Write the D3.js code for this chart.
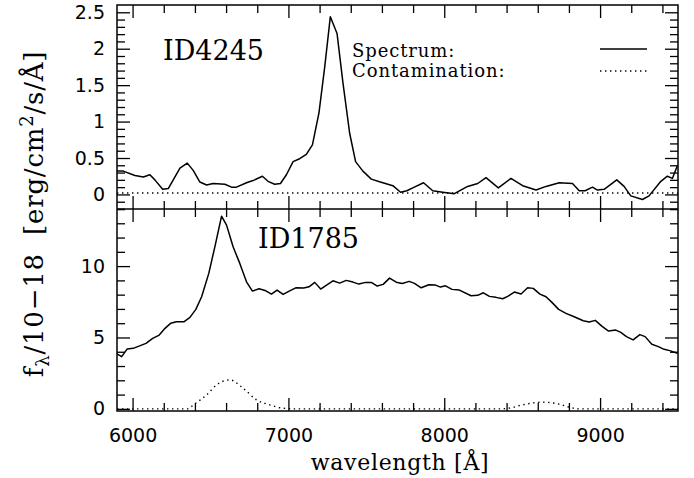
<!DOCTYPE html>
<html>
<head>
<meta charset="utf-8">
<script src="https://cdn.jsdelivr.net/npm/d3@7"></script>
<style>
  body { margin: 0; background: #fff; }
  .tick text { font-family: "DejaVu Sans", sans-serif; font-size: 19px; fill: #000; }
  .serif { font-family: "DejaVu Serif", serif; fill: #000; white-space: pre; }
</style>
</head>
<body>
<div id="container"></div>
<script>
// ID4245 spectrum (wavelength in Angstrom, flux in 1e-18 erg/cm2/s/A)
const wave4245 = [5900, 5940, 6015, 6069, 6111, 6143, 6193, 6229, 6304, 6351, 6389, 6432, 6475, 6517, 6592, 6635, 6667, 6731, 6773, 6833, 6869, 6912, 6949, 6987, 7030, 7072, 7115, 7154, 7196, 7233, 7269, 7312, 7350, 7393, 7431, 7478, 7532, 7590, 7670, 7720, 7760, 7798, 7867, 7926, 7990, 8065, 8150, 8215, 8268, 8347, 8428, 8503, 8589, 8653, 8738, 8823, 8866, 8904, 8951, 8983, 9026, 9107, 9154, 9197, 9272, 9314, 9390, 9432, 9464, 9495];
const flux4245 = [0.32, 0.32, 0.26, 0.24, 0.27, 0.20, 0.07, 0.08, 0.36, 0.43, 0.33, 0.17, 0.13, 0.15, 0.14, 0.10, 0.10, 0.16, 0.19, 0.25, 0.18, 0.14, 0.15, 0.27, 0.45, 0.49, 0.55, 0.68, 1.12, 1.75, 2.44, 2.21, 1.53, 0.84, 0.45, 0.32, 0.21, 0.17, 0.12, 0.03, 0.05, 0.09, 0.16, 0.05, 0.03, 0.01, 0.11, 0.15, 0.23, 0.09, 0.22, 0.12, 0.06, 0.11, 0.16, 0.15, 0.05, 0.05, 0.10, 0.06, 0.07, 0.20, 0.11, -0.02, -0.07, -0.02, 0.18, 0.25, 0.22, 0.39];
const contWave4245 = [5900, 9500];
const contFlux4245 = [0.02, 0.02];

// ID1785 spectrum
const wave1785 = [5900, 5930, 5966, 6004, 6086, 6129, 6171, 6208, 6244, 6282, 6329, 6368, 6406, 6443, 6489, 6528, 6571, 6603, 6645, 6688, 6731, 6769, 6812, 6855, 6891, 6927, 6966, 7008, 7047, 7098, 7132, 7169, 7207, 7247, 7286, 7329, 7371, 7414, 7452, 7495, 7532, 7570, 7608, 7649, 7692, 7730, 7775, 7809, 7852, 7901, 7944, 7976, 8008, 8050, 8097, 8172, 8215, 8251, 8290, 8332, 8375, 8407, 8450, 8493, 8535, 8571, 8614, 8653, 8691, 8734, 8781, 8834, 8892, 8930, 8969, 9011, 9054, 9101, 9133, 9169, 9212, 9255, 9289, 9332, 9374, 9411, 9447, 9496];
const flux1785 = [3.85, 3.66, 4.20, 4.24, 4.59, 4.94, 5.17, 5.64, 5.99, 6.10, 6.10, 6.41, 6.97, 7.85, 9.49, 11.35, 13.50, 12.87, 11.35, 10.19, 8.90, 8.25, 8.41, 8.27, 8.04, 8.32, 8.02, 8.27, 8.48, 8.46, 8.55, 8.86, 8.39, 8.69, 8.97, 8.81, 9.00, 8.88, 8.74, 8.86, 8.86, 8.60, 8.72, 9.16, 8.87, 8.78, 8.93, 8.79, 8.48, 8.69, 8.67, 8.53, 8.62, 8.37, 8.32, 7.92, 7.95, 8.13, 7.88, 7.81, 7.71, 7.88, 8.18, 8.04, 8.48, 8.44, 8.04, 7.85, 7.46, 6.97, 6.69, 6.45, 6.17, 6.08, 6.20, 5.80, 5.45, 5.52, 5.36, 5.06, 4.83, 5.20, 5.06, 4.52, 4.36, 4.17, 4.08, 3.90];
const contWave1785 = [5900, 6350, 6399, 6475, 6539, 6624, 6709, 6795, 6880, 6965, 7050, 8350, 8417, 8502, 8630, 8737, 8802, 8866, 9500];
const contFlux1785 = [0, 0, 0.35, 0.98, 1.68, 2.03, 1.45, 0.63, 0.28, 0.05, 0, 0, 0.05, 0.28, 0.47, 0.33, 0.12, 0, 0];

// ticks
const xMajor = [6000, 7000, 8000, 9000];
const yMajorTop = [0, 0.5, 1, 1.5, 2, 2.5];
const yMajorBot = [0, 5, 10];

const W = 694, H = 478;
const pLeft = 117, pRight = 678, pTop = 5, pMid = 209, pBottom = 411;

const svg = d3.select("#container").append("svg")
  .attr("width", W).attr("height", H);

const x = d3.scaleLinear().domain([5900, 9500]).range([pLeft, pRight]);
const yTop = d3.scaleLinear().domain([-0.2, 2.6]).range([pMid, pTop]);
const yBot = d3.scaleLinear().domain([-0.15, 14]).range([pBottom, pMid]);

const xMinor = d3.range(6000, 9500, 200).filter(v => xMajor.indexOf(v) < 0);

function frameAxes(y, y0, y1, majors, minorStep, labels) {
  const yMinor = d3.range(y.domain()[0], y.domain()[1], minorStep)
    .map(v => Math.round(v / minorStep) * minorStep)
    .filter(v => v >= y.domain()[0] && majors.every(m => Math.abs(m - v) > 1e-6));

  const draws = [
    [d3.axisBottom(x).tickValues(xMajor).tickSize(-13), y1, true],
    [d3.axisBottom(x).tickValues(xMinor).tickSize(-8), y1, false],
    [d3.axisTop(x).tickValues(xMajor).tickSize(-13), y0, false],
    [d3.axisTop(x).tickValues(xMinor).tickSize(-8), y0, false],
  ];
  draws.forEach(([ax, ty, lab]) => {
    const g = svg.append("g").attr("transform", `translate(0,${ty})`);
    ax.tickPadding(18);
    ax.tickFormat(lab && labels ? d3.format("d") : "");
    g.call(ax);
    g.select(".domain").remove();
    g.selectAll("line").attr("stroke-width", 1.3);
  });

  const gl = svg.append("g").attr("transform", `translate(${pLeft},0)`);
  gl.call(d3.axisLeft(y).tickValues(majors).tickSize(-13).tickPadding(12).tickFormat(d3.format("")));
  const gl2 = svg.append("g").attr("transform", `translate(${pLeft},0)`);
  gl2.call(d3.axisLeft(y).tickValues(yMinor).tickSize(-8).tickFormat(""));
  const gr = svg.append("g").attr("transform", `translate(${pRight},0)`);
  gr.call(d3.axisRight(y).tickValues(majors).tickSize(-13).tickFormat(""));
  const gr2 = svg.append("g").attr("transform", `translate(${pRight},0)`);
  gr2.call(d3.axisRight(y).tickValues(yMinor).tickSize(-8).tickFormat(""));
  [gl, gl2, gr, gr2].forEach(g => {
    g.select(".domain").remove();
    g.selectAll("line").attr("stroke-width", 1.3);
  });
}

frameAxes(yTop, pTop, pMid, yMajorTop, 0.1, false);
frameAxes(yBot, pMid, pBottom, yMajorBot, 1, true);

// clip regions
const defs = svg.append("defs");
defs.append("clipPath").attr("id", "clipTop").append("rect")
  .attr("x", pLeft).attr("y", pTop).attr("width", pRight - pLeft).attr("height", pMid - pTop);
defs.append("clipPath").attr("id", "clipBot").append("rect")
  .attr("x", pLeft).attr("y", pMid).attr("width", pRight - pLeft).attr("height", pBottom - pMid);

function drawSeries(wave, flux, y, clip, dotted) {
  const pts = wave.map((w, i) => [w, flux[i]]);
  const line = d3.line().x(d => x(d[0])).y(d => y(d[1]));
  if (dotted) line.curve(d3.curveMonotoneX);
  svg.append("path")
    .datum(pts)
    .attr("clip-path", `url(#${clip})`)
    .attr("fill", "none")
    .attr("stroke", "#000")
    .attr("stroke-width", dotted ? 1.4 : 1.5)
    .attr("stroke-dasharray", dotted ? "1.4,3.6" : null)
    .attr("stroke-linejoin", "round")
    .attr("d", line);
}

drawSeries(contWave4245, contFlux4245, yTop, "clipTop", true);
drawSeries(wave4245, flux4245, yTop, "clipTop", false);
drawSeries(contWave1785, contFlux1785, yBot, "clipBot", true);
drawSeries(wave1785, flux1785, yBot, "clipBot", false);

// frames
svg.append("rect").attr("x", pLeft).attr("y", pTop)
  .attr("width", pRight - pLeft).attr("height", pBottom - pTop)
  .attr("fill", "none").attr("stroke", "#000").attr("stroke-width", 1.5);
svg.append("line").attr("x1", pLeft).attr("x2", pRight).attr("y1", pMid).attr("y2", pMid)
  .attr("stroke", "#000").attr("stroke-width", 1.5);

// panel names
svg.append("text").attr("class", "serif").attr("x", 163).attr("y", 60)
  .style("font-size", "27px").text("ID4245");
svg.append("text").attr("class", "serif").attr("x", 258).attr("y", 248)
  .style("font-size", "27px").text("ID1785");

// legend
svg.append("text").attr("class", "serif").attr("x", 352).attr("y", 57)
  .style("font-size", "18px").style("letter-spacing", "0.9px").text("Spectrum:");
svg.append("text").attr("class", "serif").attr("x", 352).attr("y", 77)
  .style("font-size", "18px").style("letter-spacing", "0.9px").text("Contamination:");
svg.append("line").attr("x1", 600).attr("x2", 647).attr("y1", 49).attr("y2", 49)
  .attr("stroke", "#000").attr("stroke-width", 1.5);
svg.append("line").attr("x1", 600).attr("x2", 647).attr("y1", 71).attr("y2", 71)
  .attr("stroke", "#000").attr("stroke-width", 1.4).attr("stroke-dasharray", "1.4,3.6");

// axis titles
svg.append("text").attr("class", "serif").attr("x", 400).attr("y", 470)
  .attr("text-anchor", "middle").style("font-size", "22px").style("letter-spacing", "0.7px")
  .text("wavelength [Å]");

const yl = svg.append("text").attr("class", "serif")
  .attr("transform", "translate(43,214) rotate(-90)")
  .attr("text-anchor", "middle").style("font-size", "26px").style("letter-spacing", "0.8px");
yl.append("tspan").text("f");
yl.append("tspan").attr("dy", 6).style("font-size", "18px").text("λ");
yl.append("tspan").attr("dy", -6).text("/10−18  [erg/cm");
yl.append("tspan").attr("dy", -10).style("font-size", "18px").text("2");
yl.append("tspan").attr("dy", 10).text("/s/Å]");
</script>
</body>
</html>
